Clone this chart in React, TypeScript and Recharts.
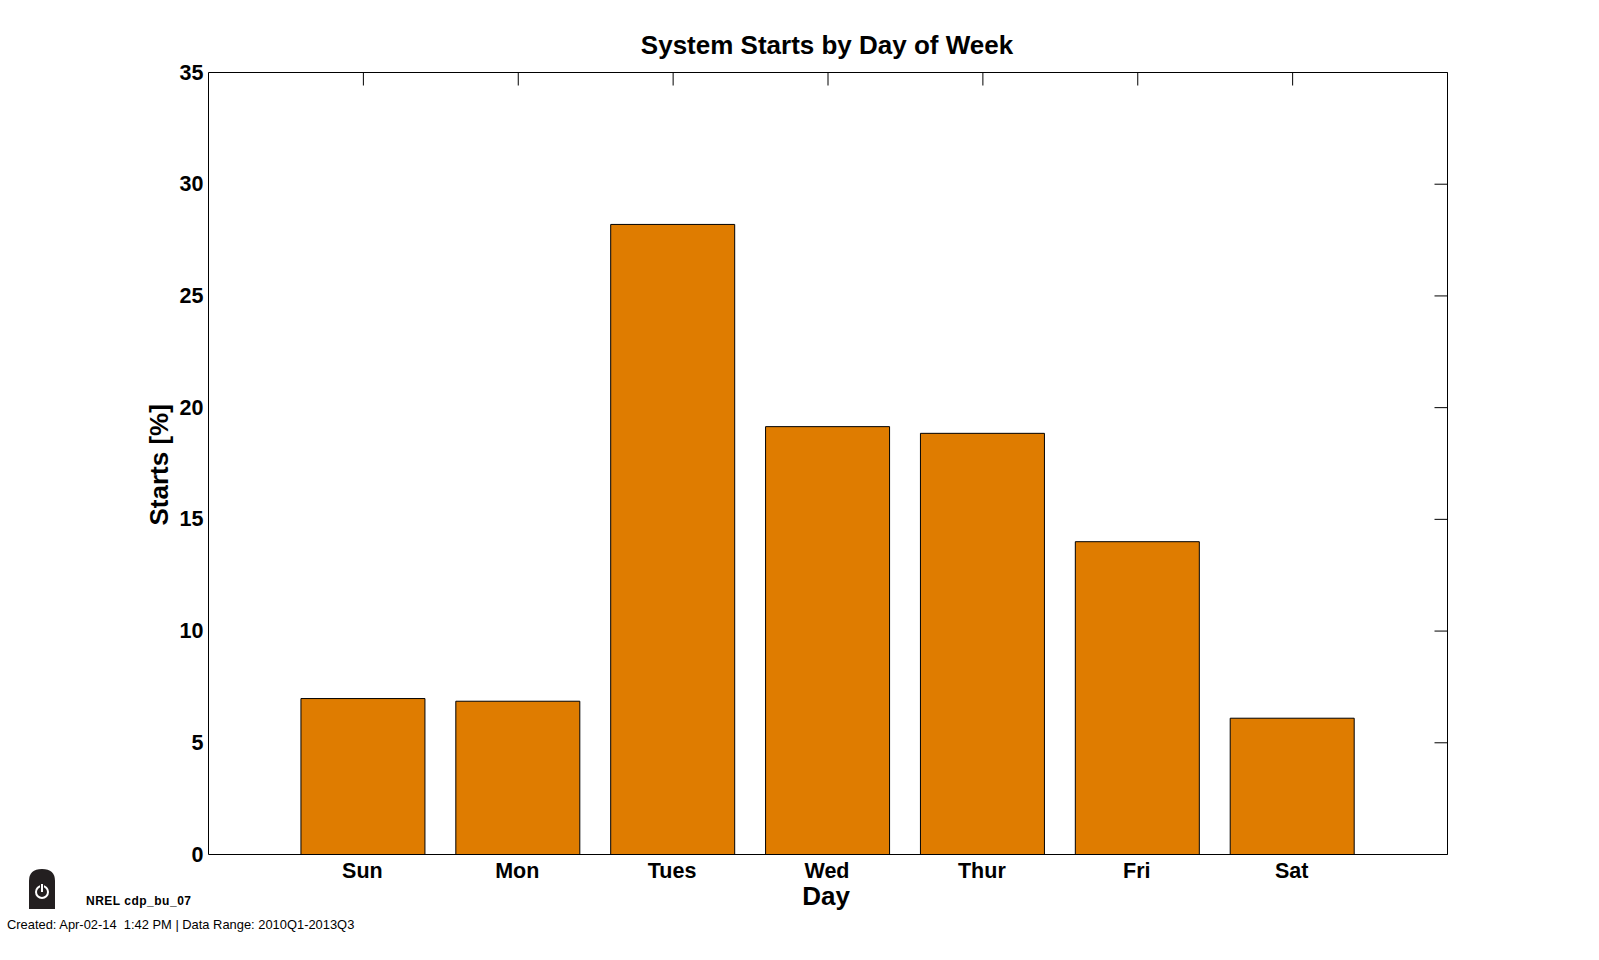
import React from "react";
import { ComposedChart, Bar, XAxis, YAxis } from "recharts";

const categories = ["Sun", "Mon", "Tues", "Wed", "Thur", "Fri", "Sat"];
const startsPct = [6.98, 6.86, 28.2, 19.15, 18.85, 14.0, 6.1];
const yTicks = [0, 5, 10, 15, 20, 25, 30, 35];
const xPositions = [1, 2, 3, 4, 5, 6, 7];
const rows = categories.map((day, i) => ({ pos: xPositions[i], day, starts: startsPct[i] }));

const FONT = '"Liberation Sans", Arial, sans-serif';
const tickStyle = { fontFamily: FONT, fontWeight: 700, fontSize: 21.5, fill: "#000" };
const noLabel = () => "";

export default function App() {
  return (
    <div style={{ position: "absolute", left: 0, top: 0, width: 1599, height: 960, background: "#fff", fontFamily: FONT }}>
      <ComposedChart width={1599} height={960} data={rows} margin={{ top: 72.5, right: 151.5, bottom: 75.5, left: 148.5 }}>
        <XAxis
          xAxisId="bottom"
          dataKey="pos"
          type="number"
          domain={[0, 8]}
          ticks={xPositions}
          tickFormatter={(v: number) => categories[v - 1]}
          tickLine={false}
          height={30}
          tickSize={0}
          tickMargin={8}
          stroke="#000"
          tick={{ ...tickStyle, dx: -1 }}
          allowDataOverflow
          label={{ value: "Day", position: "insideBottom", offset: -20, dx: -2, style: { fontFamily: FONT, fontWeight: 700, fontSize: 26, fill: "#000" } }}
        />
        <XAxis
          xAxisId="top"
          orientation="top"
          dataKey="pos"
          type="number"
          domain={[0, 8]}
          ticks={xPositions}
          mirror
          tickFormatter={noLabel}
          tickSize={13}
          stroke="#000"
          height={1}
        />
        <YAxis
          yAxisId="left"
          type="number"
          domain={[0, 35]}
          ticks={yTicks}
          width={60}
          tickLine={false}
          tickSize={0}
          tickMargin={5}
          stroke="#000"
          tick={{ ...tickStyle, dy: -0.5 }}
          interval={0}
          label={{ value: "Starts [%]", angle: -90, position: "insideLeft", offset: 10, dy: 62, style: { fontFamily: FONT, fontWeight: 700, fontSize: 26, fill: "#000" } }}
        />
        <YAxis
          yAxisId="right"
          orientation="right"
          dataKey="starts"
          type="number"
          domain={[0, 35]}
          ticks={yTicks}
          mirror
          tickFormatter={noLabel}
          tickSize={13}
          stroke="#000"
          width={1}
          interval={0}
        />
        <Bar
          xAxisId="bottom"
          yAxisId="left"
          dataKey="starts"
          barSize={124}
          fill="#DF7C00"
          stroke="#000"
          strokeWidth={1}
          isAnimationActive={false}
        />
      </ComposedChart>
      <div style={{ position: "absolute", left: 0, width: 1654, top: 30, textAlign: "center", fontWeight: 700, fontSize: 26, lineHeight: "30px", color: "#000", whiteSpace: "nowrap" }}>
        System Starts by Day of Week
      </div>
      <svg style={{ position: "absolute", left: 29, top: 869 }} width={26} height={40} viewBox="0 0 26 40">
        <path d="M0 40 V12 Q0 0 13 0 Q26 0 26 12 V40 Z" fill="#231F20" />
        <circle cx="13" cy="23" r="6" fill="none" stroke="#fff" strokeWidth="2" />
        <path d="M13 14 V23" stroke="#231F20" strokeWidth="4" />
        <path d="M13 15 V23" stroke="#fff" strokeWidth="2" />
      </svg>
      <div style={{ position: "absolute", left: 86, top: 894, fontWeight: 700, fontSize: 12, lineHeight: "14px", letterSpacing: 0.5, color: "#000", whiteSpace: "nowrap" }}>
        NREL cdp_bu_07
      </div>
      <div style={{ position: "absolute", left: 7, top: 917, fontSize: 12.9, lineHeight: "15px", color: "#000", whiteSpace: "pre" }}>
        {"Created: Apr-02-14  1:42 PM | Data Range: 2010Q1-2013Q3"}
      </div>
    </div>
  );
}
